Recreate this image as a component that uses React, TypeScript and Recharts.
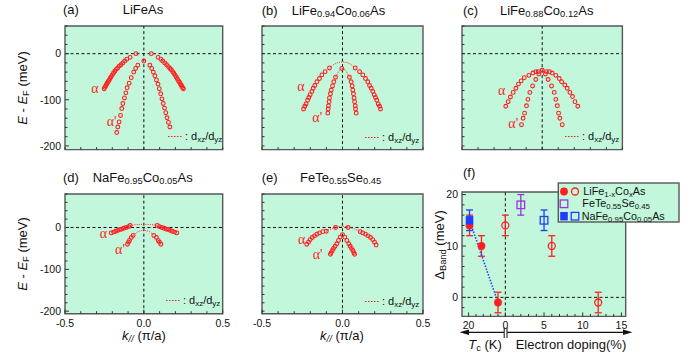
import React from 'react';
import {
  CartesianGrid,
  ErrorBar,
  ReferenceArea,
  ReferenceLine,
  Scatter,
  ScatterChart,
  XAxis,
  YAxis,
} from 'recharts';

const FONT = '"Liberation Sans", Arial, Helvetica, sans-serif';
const SERIF = '"Liberation Serif", "Times New Roman", serif';
const BG = '#c2f7dc';
const FRAME = '#585858';
const RED = '#ff1f1f';
const PURPLE = '#9b35d6';
const BLUE = '#1f3cff';

// band dispersions, [k (pi/a), E - EF (meV)]
const aAlpha = [
  [-0.252, -76], [-0.247, -73], [-0.242, -70], [-0.237, -67], [-0.232, -64], [-0.227, -61],
  [-0.221, -58], [-0.214, -54], [-0.207, -50], [-0.2, -46], [-0.192, -42], [-0.184, -38],
  [-0.175, -34], [-0.166, -31], [-0.156, -27], [-0.145, -24], [-0.133, -20], [-0.121, -16],
  [-0.108, -12], [-0.087, -8], [-0.05, 0],
  [0.047, 0], [0.09, -8], [0.108, -12], [0.12, -16], [0.132, -20], [0.144, -24], [0.155, -28],
  [0.165, -32], [0.174, -35], [0.183, -39], [0.191, -43], [0.199, -47], [0.206, -51],
  [0.213, -55], [0.22, -59], [0.226, -62], [0.231, -65], [0.236, -68], [0.241, -71],
  [0.246, -74], [0.251, -76],
];
const aAlphaP = [
  [-0.172, -171], [-0.165, -159], [-0.157, -148], [-0.148, -134], [-0.14, -119], [-0.133, -108],
  [-0.123, -96], [-0.114, -85], [-0.106, -74], [-0.093, -64], [-0.08, -52], [-0.064, -40],
  [-0.052, -32], [-0.038, -25], [0, -16],
  [0.038, -25], [0.05, -32], [0.06, -40], [0.07, -48], [0.08, -57], [0.09, -66], [0.098, -76],
  [0.107, -87], [0.115, -98], [0.123, -108], [0.131, -118], [0.139, -128], [0.147, -139],
  [0.156, -149], [0.165, -159],
];

const bAlpha = [
  [-0.242, -120], [-0.234, -114], [-0.226, -109], [-0.217, -101], [-0.209, -95], [-0.201, -89],
  [-0.19, -82], [-0.182, -75], [-0.172, -69], [-0.159, -61], [-0.143, -54], [-0.128, -46],
  [-0.108, -39], [-0.081, -31],
  [0.079, -31], [0.106, -39], [0.126, -46], [0.143, -54], [0.157, -61], [0.168, -69],
  [0.178, -75], [0.188, -82], [0.197, -89], [0.205, -95], [0.213, -101], [0.222, -109],
  [0.23, -114], [0.236, -120],
];
const bAlphaP = [
  [-0.091, -129], [-0.089, -120], [-0.087, -113], [-0.083, -104], [-0.081, -96], [-0.075, -87],
  [-0.07, -79], [-0.062, -70], [-0.054, -61], [-0.043, -51], [-0.004, -32],
  [0.043, -51], [0.054, -61], [0.06, -70], [0.064, -79], [0.068, -87], [0.072, -96],
  [0.075, -104], [0.079, -113], [0.081, -120], [0.085, -129],
];
const bFitAlpha = [[-0.081, -31], [-0.04, -21], [0, -18], [0.04, -21], [0.079, -31]];
const bFitAlphaP = [[-0.043, -51], [-0.02, -37], [-0.004, -32], [0.02, -37], [0.043, -51]];

const cAlpha = [
  [-0.227, -114], [-0.212, -104], [-0.198, -94], [-0.181, -84], [-0.164, -75], [-0.148, -66],
  [-0.131, -59], [-0.112, -52], [-0.083, -47], [-0.058, -42], [-0.04, -39], [-0.025, -39],
  [0, -36],
  [0.027, -39], [0.045, -39], [0.062, -42], [0.085, -47], [0.106, -54], [0.121, -61],
  [0.141, -68], [0.156, -75], [0.173, -84], [0.189, -93], [0.204, -104], [0.222, -114],
];
const cAlphaP = [
  [-0.129, -154], [-0.119, -140], [-0.11, -129], [-0.098, -113], [-0.089, -99], [-0.077, -84],
  [-0.06, -70], [-0.04, -56], [-0.02, -44],
  [0.02, -44], [0.037, -56], [0.058, -70], [0.075, -84], [0.085, -99], [0.094, -113],
  [0.102, -129], [0.11, -140], [0.125, -154],
];

const dAlpha = [
  [-0.207, -13], [-0.192, -11], [-0.178, -9], [-0.165, -7], [-0.152, -5], [-0.14, -4],
  [-0.127, -2], [-0.112, 0], [-0.097, 2], [-0.087, 5],
  [0.085, 5], [0.099, 2], [0.114, 0], [0.129, -2], [0.142, -4], [0.154, -5], [0.167, -7],
  [0.18, -9], [0.195, -11], [0.209, -13],
];
const dAlphaP = [
  [-0.104, -40], [-0.097, -35], [-0.091, -31], [-0.08, -24], [-0.068, -19],
  [0.063, -19], [0.08, -24], [0.091, -31], [0.099, -35], [0.108, -40],
];
const dFitAlpha = [[-0.087, 5], [-0.04, 7], [0, 7.5], [0.04, 7], [0.085, 5]];
const dFitAlphaP = [[-0.068, -19], [-0.03, -9], [0, -7], [0.03, -9], [0.063, -19]];

const eAlpha = [
  [-0.222, -40], [-0.211, -35], [-0.201, -29], [-0.188, -24], [-0.174, -20], [-0.159, -16],
  [-0.143, -13], [-0.122, -10], [-0.101, -9], [-0.043, 0],
  [0.035, 0], [0.11, -10], [0.126, -13], [0.143, -16], [0.159, -20], [0.174, -24],
  [0.188, -29], [0.199, -35], [0.209, -42],
];
const eAlphaP = [
  [-0.075, -64], [-0.07, -60], [-0.063, -55], [-0.056, -50], [-0.046, -45], [-0.035, -39],
  [-0.025, -31], [-0.014, -23], [0, -17],
  [0.014, -23], [0.027, -31], [0.039, -39], [0.048, -45], [0.056, -50], [0.064, -55],
  [0.07, -60], [0.075, -64],
];
const eFitAlpha = [[-0.101, -9], [-0.07, -3], [-0.043, 0], [0, 3], [0.035, 0], [0.07, -3], [0.11, -10]];

// panel (f): band gap vs Tc (K) and vs electron doping (%)
const liCoTc = [19.5, 13, 4];
const liCoGapTc = [14, 10, -1];
const liCoDoping = [0, 6, 12];
const liCoGapDoping = [14, 10, -1];
const feTeSeDoping = [2];
const feTeSeGap = [18];
const naCoTc = [19.5];
const naCoGapTc = [15];
const naCoDoping = [5];
const naCoGapDoping = [15];
const gapErr = 2;

const kTicks = [-0.5, -0.4, -0.3, -0.2, -0.1, 0, 0.1, 0.2, 0.3, 0.4, 0.5];
const eTicksTop = [-200, -180, -160, -140, -120, -100, -80, -60, -40, -20, 0, 20, 40, 60];
const eTicksBottom = [-200, -180, -160, -140, -120, -100, -80, -60, -40, -20, 0, 20, 40, 60, 80];
const gapTicks = [-2, 0, 2, 4, 6, 8, 10, 12, 14, 16, 18, 20];
const tcTicks = [4, 8, 12, 16, 20];
const dopingTicks = [0, 1, 2, 3, 4, 5, 6, 7, 8, 9, 10, 11, 12, 13, 14, 15];

// Tc is drawn to the left of zero on the doping axis
const TC_SCALE = 0.2374;
const tcPos = (tc: number) => -tc * TC_SCALE;

const toXY = (arr: number[][]) => arr.map(([x, y]) => ({ x, y }));

// outer room around each plot; the axes themselves take 1px
const M = { top: 4, right: 12, bottom: 22, left: 34 };
const chartMargin = { top: M.top, right: M.right, bottom: M.bottom - 1, left: M.left - 1 };

const XTick = (props: any) => {
  const { x, y, payload, fmt } = props;
  const lab = fmt ? fmt(payload.value) : null;
  return (
    <g>
      <line x1={x} x2={x} y1={y} y2={y - (lab !== null ? 4 : 2.5)} stroke='#333' strokeWidth={1} />
      {lab !== null && (
        <text x={x} y={y + 13} textAnchor='middle' fontSize={10.5} fontFamily={FONT} fill='#111'>
          {lab}
        </text>
      )}
    </g>
  );
};

const YTick = (props: any) => {
  const { x, y, payload, fmt } = props;
  const lab = fmt ? fmt(payload.value) : null;
  return (
    <g>
      <line x1={x} x2={x + (lab !== null ? 4 : 2.5)} y1={y} y2={y} stroke='#333' strokeWidth={1} />
      {lab !== null && (
        <text x={x - 4} y={y + 3.8} textAnchor='end' fontSize={10.5} fontFamily={FONT} fill='#111'>
          {lab}
        </text>
      )}
    </g>
  );
};

interface FrameProps {
  left: number;
  top: number;
  width: number;
  height: number;
  xDomain: [number, number];
  yDomain: [number, number];
  xTicks: number[];
  yTicks: number[];
  fmtX?: (v: number) => string | null;
  fmtY?: (v: number) => string | null;
  children?: React.ReactNode;
}

function Frame(p: FrameProps) {
  return (
    <div style={{ position: 'absolute', left: p.left - M.left, top: p.top - M.top }}>
      <ScatterChart width={p.width + M.left + M.right} height={p.height + M.top + M.bottom} margin={chartMargin}>
        <CartesianGrid fill={BG} fillOpacity={1} horizontal={false} vertical={false} />
        <XAxis
          type='number'
          dataKey='x'
          domain={p.xDomain}
          allowDataOverflow
          ticks={p.xTicks}
          interval={0}
          height={1}
          tickSize={0}
          tickMargin={0}
          axisLine={false}
          tickLine={false}
          tick={(t: any) => <XTick {...t} fmt={p.fmtX} />}
        />
        <YAxis
          type='number'
          dataKey='y'
          domain={p.yDomain}
          allowDataOverflow
          ticks={p.yTicks}
          interval={0}
          width={1}
          tickSize={0}
          tickMargin={0}
          axisLine={false}
          tickLine={false}
          tick={(t: any) => <YTick {...t} fmt={p.fmtY} />}
        />
        <ReferenceLine x={0} stroke='#111' strokeDasharray='3 2.5' strokeWidth={1} />
        <ReferenceLine y={0} stroke='#111' strokeDasharray='3 2.5' strokeWidth={1} />
        {p.children}
        <ReferenceArea
          x1={p.xDomain[0]}
          x2={p.xDomain[1]}
          y1={p.yDomain[0]}
          y2={p.yDomain[1]}
          fill='none'
          stroke={FRAME}
          strokeWidth={1.4}
          ifOverflow='visible'
        />
      </ScatterChart>
    </div>
  );
}

const openDot = (s: any) => (
  <circle cx={s.cx} cy={s.cy} r={1.9} fill='none' stroke={RED} strokeWidth={1.1} />
);
const noShape = () => <g />;
const fitLine = { stroke: RED, strokeWidth: 1, strokeDasharray: '1 1.2' };

const fmtK = (v: number) =>
  Math.abs(v) < 1e-6 ? '0.0' : Math.abs(Math.abs(v) - 0.5) < 1e-6 ? v.toFixed(1) : null;
const fmtE = (v: number) => (v === 0 || v === -100 || v === -200 ? String(v) : null);

interface BandPanelProps {
  left: number;
  top: number;
  width: number;
  height: number;
  yDomain: [number, number];
  yTicks: number[];
  kLabels?: boolean;
  eLabels?: boolean;
  bands: number[][][];
  fits?: number[][][];
}

function BandPanel(p: BandPanelProps) {
  return (
    <Frame
      left={p.left}
      top={p.top}
      width={p.width}
      height={p.height}
      xDomain={[-0.5, 0.5]}
      yDomain={p.yDomain}
      xTicks={kTicks}
      yTicks={p.yTicks}
      fmtX={p.kLabels ? fmtK : undefined}
      fmtY={p.eLabels ? fmtE : undefined}
    >
      {(p.fits || []).map((f, i) => (
        <Scatter
          key={`fit-${i}`}
          data={toXY(f)}
          line={fitLine}
          lineJointType='monotoneX'
          shape={noShape}
          isAnimationActive={false}
        />
      ))}
      {p.bands.map((b, i) => (
        <Scatter key={`band-${i}`} data={toXY(b)} shape={openDot} isAnimationActive={false} />
      ))}
    </Frame>
  );
}

const filledCircle = (s: any) => <circle cx={s.cx} cy={s.cy} r={3.9} fill={RED} />;
const openCircle = (s: any) => (
  <circle cx={s.cx} cy={s.cy} r={3.5} fill='none' stroke={RED} strokeWidth={1.3} />
);
const openSquare = (color: string) => (s: any) => (
  <rect x={s.cx - 3.8} y={s.cy - 3.8} width={7.6} height={7.6} fill='none' stroke={color} strokeWidth={1.3} />
);
const filledSquare = (s: any) => (
  <rect x={s.cx - 3.8} y={s.cy - 4.2} width={7.6} height={8.4} fill={BLUE} />
);

const fTicks = [...tcTicks.map(tcPos), ...dopingTicks];
const fmtF = (v: number) => {
  if (Math.abs(v - tcPos(20)) < 1e-6) return '20';
  if ([0, 5, 10, 15].includes(v)) return String(v);
  return null;
};
const fmtGap = (v: number) => (v === 0 || v === 10 || v === 20 ? String(v) : null);

function GapPanel() {
  const tcData = liCoTc.map((t, i) => ({ x: tcPos(t), y: liCoGapTc[i], err: gapErr }));
  const dopData = liCoDoping.map((d, i) => ({ x: d, y: liCoGapDoping[i], err: gapErr }));
  const feData = feTeSeDoping.map((d, i) => ({ x: d, y: feTeSeGap[i], err: gapErr }));
  const naTcData = naCoTc.map((t, i) => ({ x: tcPos(t), y: naCoGapTc[i], err: gapErr }));
  const naDopData = naCoDoping.map((d, i) => ({ x: d, y: naCoGapDoping[i], err: gapErr }));
  const trend = [naTcData[0], tcData[tcData.length - 1]].map((d) => ({ x: d.x, y: d.y }));
  const bar = { direction: 'y' as const, dataKey: 'err', width: 3.5, strokeWidth: 1.3 };
  return (
    <Frame
      left={462.3}
      top={192.3}
      width={163.7}
      height={124.4}
      xDomain={[-5.6, 15.55]}
      yDomain={[-3.7, 20.5]}
      xTicks={fTicks}
      yTicks={gapTicks}
      fmtX={fmtF}
      fmtY={fmtGap}
    >
      <Scatter
        data={trend}
        line={{ stroke: '#2a44ee', strokeWidth: 1.6, strokeDasharray: '1.5 1.5' }}
        shape={noShape}
        isAnimationActive={false}
      />
      <Scatter data={tcData} shape={filledCircle} isAnimationActive={false}>
        <ErrorBar {...bar} stroke={RED} />
      </Scatter>
      <Scatter data={dopData} shape={openCircle} isAnimationActive={false}>
        <ErrorBar {...bar} stroke={RED} />
      </Scatter>
      <Scatter data={feData} shape={openSquare(PURPLE)} isAnimationActive={false}>
        <ErrorBar {...bar} stroke={PURPLE} />
      </Scatter>
      <Scatter data={naTcData} shape={filledSquare} isAnimationActive={false}>
        <ErrorBar {...bar} stroke={BLUE} />
      </Scatter>
      <Scatter data={naDopData} shape={openSquare(BLUE)} isAnimationActive={false}>
        <ErrorBar {...bar} stroke={BLUE} />
      </Scatter>
    </Frame>
  );
}

const Sub = ({ children }: { children: React.ReactNode }) => (
  <span style={{ fontSize: '0.72em', verticalAlign: '-0.3em', lineHeight: 0 }}>{children}</span>
);

interface TxtProps {
  x: number;
  y: number;
  anchor?: 'start' | 'middle';
  size?: number;
  rotate?: boolean;
  color?: string;
  family?: string;
  children: React.ReactNode;
}

function Txt({ x, y, anchor = 'start', size = 13, rotate, color = '#111', family = FONT, children }: TxtProps) {
  const tx = anchor === 'middle' || rotate ? '-50%' : '0';
  return (
    <div
      style={{
        position: 'absolute',
        left: x,
        top: y,
        transform: `translate(${tx},-50%)${rotate ? ' rotate(-90deg)' : ''}`,
        whiteSpace: 'nowrap',
        lineHeight: 1,
        fontSize: size,
        fontFamily: family,
        color,
      }}
    >
      {children}
    </div>
  );
}

// position of the d_xz/d_yz key in each band panel
const fitKeys = [
  [168, 136.5],
  [365, 137.5],
  [565, 136.5],
  [166, 300.5],
  [365, 301.5],
];

const Alpha = ({ x, y, prime }: { x: number; y: number; prime?: boolean }) => (
  <Txt x={x} y={y} anchor='middle' size={14} color={RED} family={SERIF}>
    {prime ? "\u03b1'" : '\u03b1'}
  </Txt>
);

export default function App() {
  return (
    <div
      style={{
        position: 'absolute',
        left: 0,
        top: 0,
        width: 690,
        height: 358,
        background: '#fff',
        overflow: 'hidden',
        fontFamily: FONT,
      }}
    >
      <BandPanel left={65} top={25.6} width={157.7} height={123.6} yDomain={[-208, 60]} yTicks={eTicksTop} eLabels bands={[aAlpha, aAlphaP]} />
      <BandPanel left={261.7} top={25.6} width={161} height={123.6} yDomain={[-208, 60]} yTicks={eTicksTop} bands={[bAlpha, bAlphaP]} fits={[bFitAlpha, bFitAlphaP]} />
      <BandPanel left={462.3} top={25.6} width={160.4} height={123.6} yDomain={[-208, 60]} yTicks={eTicksTop} bands={[cAlpha, cAlphaP]} />
      <BandPanel left={65} top={194.3} width={157.7} height={119.7} yDomain={[-206, 80]} yTicks={eTicksBottom} eLabels kLabels bands={[dAlpha, dAlphaP]} fits={[dFitAlpha, dFitAlphaP]} />
      <BandPanel left={261.7} top={194.3} width={161} height={119.7} yDomain={[-206, 80]} yTicks={eTicksBottom} kLabels bands={[eAlpha, eAlphaP]} fits={[eFitAlpha]} />
      <GapPanel />

      <svg style={{ position: 'absolute', left: 0, top: 0 }} width={690} height={358}>
        {fitKeys.map(([x, y], i) => (
          <line key={i} x1={x} x2={x + 15} y1={y} y2={y} stroke={RED} strokeWidth={1} strokeDasharray='1.5 1.5' />
        ))}
        <rect x={558.3} y={183} width={120.7} height={39} fill={BG} stroke={FRAME} strokeWidth={1.4} />
        <circle cx={564} cy={191.5} r={3.9} fill={RED} />
        <circle cx={575} cy={191.5} r={3.5} fill='none' stroke={RED} strokeWidth={1.3} />
        <rect x={560.2} y={200} width={7.6} height={7.6} fill='none' stroke={PURPLE} strokeWidth={1.3} />
        <rect x={560.2} y={212} width={7.6} height={8.4} fill={BLUE} />
        <rect x={571.2} y={212.4} width={7.6} height={7.6} fill='none' stroke={BLUE} strokeWidth={1.3} />
        <line x1={466} x2={504} y1={332.3} y2={332.3} stroke='#111' strokeWidth={1.2} />
        <line x1={507.2} x2={626} y1={332.3} y2={332.3} stroke='#111' strokeWidth={1.2} />
        <polygon points='459.5,332.3 469,329.6 469,335' fill='#111' />
        <polygon points='632.5,332.3 623,329.6 623,335' fill='#111' />
        <line x1={504.2} x2={504.2} y1={327.5} y2={338} stroke='#111' strokeWidth={1} />
        <line x1={507} x2={507} y1={327.5} y2={338} stroke='#111' strokeWidth={1} />
      </svg>

      <Txt x={63} y={9}>(a)</Txt>
      <Txt x={122.7} y={9}>LiFeAs</Txt>
      <Txt x={261.7} y={9.5}>(b)</Txt>
      <Txt x={291.7} y={9.5}>LiFe<Sub>0.94</Sub>Co<Sub>0.06</Sub>As</Txt>
      <Txt x={463} y={9.5}>(c)</Txt>
      <Txt x={500} y={9.5}>LiFe<Sub>0.88</Sub>Co<Sub>0.12</Sub>As</Txt>
      <Txt x={63} y={176.5}>(d)</Txt>
      <Txt x={92.7} y={176.5}>NaFe<Sub>0.95</Sub>Co<Sub>0.05</Sub>As</Txt>
      <Txt x={261.7} y={176.5}>(e)</Txt>
      <Txt x={300} y={176.5}>FeTe<Sub>0.55</Sub>Se<Sub>0.45</Sub></Txt>
      <Txt x={463} y={171.5}>(f)</Txt>

      <Txt x={21.7} y={87.5} rotate>
        <i>E</i> - <i>E</i><Sub>F</Sub> (meV)
      </Txt>
      <Txt x={21.7} y={254} rotate>
        <i>E</i> - <i>E</i><Sub>F</Sub> (meV)
      </Txt>
      <Txt x={439} y={245} rotate>
        {'\u0394'}<Sub>Band</Sub> (meV)
      </Txt>
      <Txt x={144} y={335} anchor='middle'>
        <i>k</i><Sub><i>//</i></Sub> ({'\u03c0'}/a)
      </Txt>
      <Txt x={342} y={335} anchor='middle'>
        <i>k</i><Sub><i>//</i></Sub> ({'\u03c0'}/a)
      </Txt>
      <Txt x={485} y={343.5} anchor='middle'>
        <i>T</i><Sub>c</Sub> (K)
      </Txt>
      <Txt x={515.7} y={343.5}>Electron doping(%)</Txt>

      <Txt x={583.3} y={190.5} size={10.8}>LiFe<Sub>1-x</Sub>Co<Sub>x</Sub>As</Txt>
      <Txt x={582.3} y={203.3} size={10.8}>FeTe<Sub>0.55</Sub>Se<Sub>0.45</Sub></Txt>
      <Txt x={581.7} y={215.8} size={10.8}>NaFe<Sub>0.95</Sub>Co<Sub>0.05</Sub>As</Txt>

      {fitKeys.map(([x, y], i) => (
        <Txt key={i} x={x + 17} y={y - 1} size={11}>
          : d<Sub>xz</Sub>/d<Sub>yz</Sub>
        </Txt>
      ))}

      <Alpha x={95} y={89.3} />
      <Alpha x={111.7} y={121.7} prime />
      <Alpha x={301} y={87.3} />
      <Alpha x={317.3} y={118.3} prime />
      <Alpha x={501.7} y={90.7} />
      <Alpha x={513.3} y={124} prime />
      <Alpha x={103.3} y={234.3} />
      <Alpha x={120} y={250} prime />
      <Alpha x={301.7} y={240} />
      <Alpha x={317.7} y={255} prime />
    </div>
  );
}
